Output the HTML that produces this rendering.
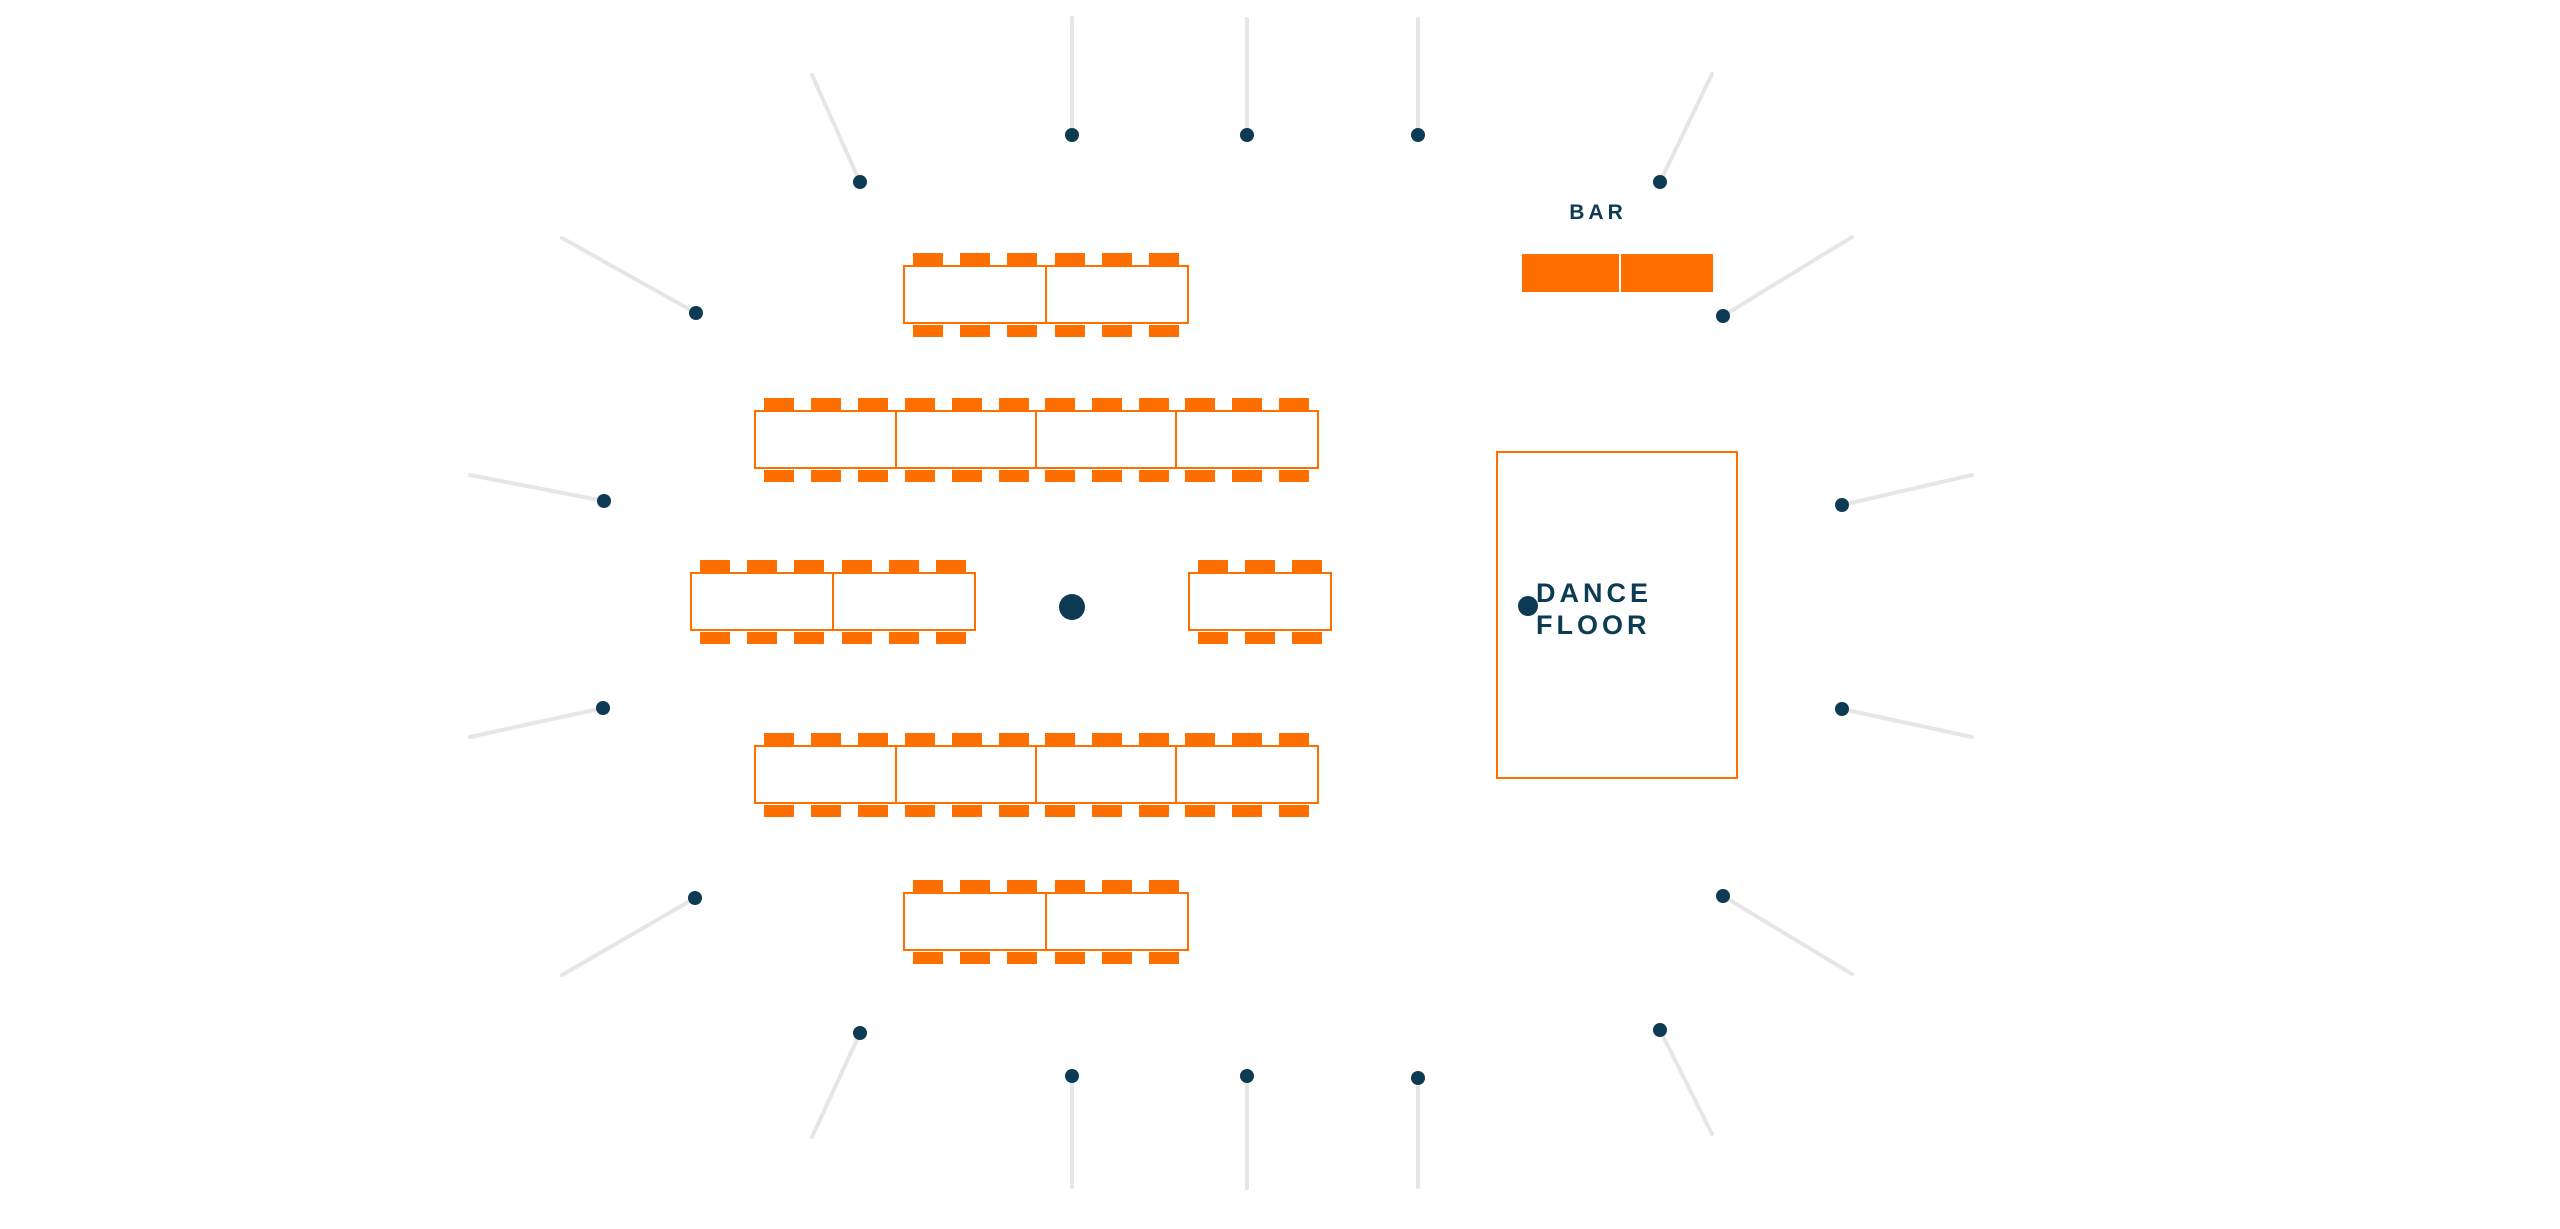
<!DOCTYPE html>
<html><head><meta charset="utf-8"><style>
html,body{margin:0;padding:0;background:#fff;}
svg{display:block;}
text{font-family:"Liberation Sans",sans-serif;font-weight:bold;fill:#0d3b54;}
</style></head><body>
<svg width="2560" height="1229" viewBox="0 0 2560 1229" xmlns="http://www.w3.org/2000/svg">
<defs>
<g id="t">
<rect x="0" y="0" width="142" height="57" fill="#fff" stroke="#ff6f00" stroke-width="2"/>
<rect x="9" y="-13" width="30" height="12" fill="#ff6f00"/>
<rect x="56" y="-13" width="30" height="12" fill="#ff6f00"/>
<rect x="103" y="-13" width="30" height="12" fill="#ff6f00"/>
<rect x="9" y="59" width="30" height="12" fill="#ff6f00"/>
<rect x="56" y="59" width="30" height="12" fill="#ff6f00"/>
<rect x="103" y="59" width="30" height="12" fill="#ff6f00"/>
</g>
</defs>
<g stroke="#e6e6e6" stroke-width="4" stroke-linecap="round">
<line x1="1072" y1="18" x2="1072" y2="130"/>
<line x1="1247" y1="19" x2="1247" y2="130"/>
<line x1="1418" y1="19" x2="1418" y2="130"/>
<line x1="812" y1="75" x2="860" y2="182"/>
<line x1="1712" y1="74" x2="1660" y2="182"/>
<line x1="562" y1="238" x2="696" y2="313"/>
<line x1="1852" y1="237" x2="1723" y2="316"/>
<line x1="470" y1="475" x2="604" y2="501"/>
<line x1="1972" y1="475" x2="1842" y2="505"/>
<line x1="470" y1="737" x2="603" y2="708"/>
<line x1="1972" y1="737" x2="1842" y2="709"/>
<line x1="562" y1="975" x2="695" y2="898"/>
<line x1="1852" y1="974" x2="1723" y2="896"/>
<line x1="812" y1="1137" x2="860" y2="1033"/>
<line x1="1712" y1="1134" x2="1660" y2="1030"/>
<line x1="1072" y1="1076" x2="1072" y2="1187"/>
<line x1="1247" y1="1076" x2="1247" y2="1188"/>
<line x1="1418" y1="1078" x2="1418" y2="1187"/>
</g>
<g fill="#0d3b54">
<circle cx="1072" cy="135" r="7"/><circle cx="1247" cy="135" r="7"/><circle cx="1418" cy="135" r="7"/>
<circle cx="860" cy="182" r="7"/><circle cx="1660" cy="182" r="7"/>
<circle cx="696" cy="313" r="7"/><circle cx="1723" cy="316" r="7"/>
<circle cx="604" cy="501" r="7"/><circle cx="1842" cy="505" r="7"/>
<circle cx="603" cy="708" r="7"/><circle cx="1842" cy="709" r="7"/>
<circle cx="695" cy="898" r="7"/><circle cx="1723" cy="896" r="7"/>
<circle cx="860" cy="1033" r="7"/><circle cx="1660" cy="1030" r="7"/>
<circle cx="1072" cy="1076" r="7"/><circle cx="1247" cy="1076" r="7"/><circle cx="1418" cy="1078" r="7"/>
<circle cx="1072" cy="607" r="13"/>
<circle cx="1528" cy="606" r="10"/>
</g>
<use href="#t" x="904" y="266"/><use href="#t" x="1046" y="266"/>
<use href="#t" x="755" y="411"/><use href="#t" x="896" y="411"/><use href="#t" x="1036" y="411"/><use href="#t" x="1176" y="411"/>
<use href="#t" x="691" y="573"/><use href="#t" x="833" y="573"/><use href="#t" x="1189" y="573"/>
<use href="#t" x="755" y="746"/><use href="#t" x="896" y="746"/><use href="#t" x="1036" y="746"/><use href="#t" x="1176" y="746"/>
<use href="#t" x="904" y="893"/><use href="#t" x="1046" y="893"/>
<text x="1598" y="219" font-size="21" letter-spacing="4" text-anchor="middle">BAR</text>
<rect x="1522" y="254" width="97" height="38" fill="#ff6f00"/>
<rect x="1621" y="254" width="92" height="38" fill="#ff6f00"/>
<rect x="1497" y="452" width="240" height="326" fill="none" stroke="#ff6f00" stroke-width="2"/>
<text x="1536" y="602" font-size="27" letter-spacing="4">DANCE</text>
<text x="1536" y="634" font-size="27" letter-spacing="4">FLOOR</text>
</svg>
</body></html>
